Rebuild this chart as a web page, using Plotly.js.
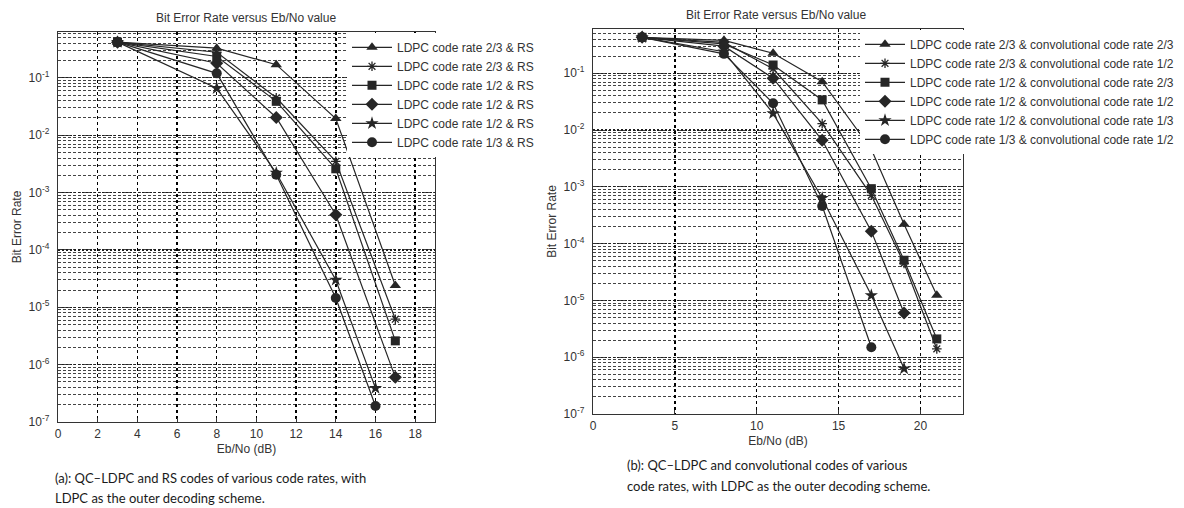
<!DOCTYPE html>
<html>
<head>
<meta charset="utf-8">
<script src="https://cdn.plot.ly/plotly-3.0.1.min.js"></script>
<style>html,body{margin:0;padding:0;background:#fff;}#chart{width:1184px;height:508px;}</style>
</head>
<body>
<div id="chart"></div>
<script>
// ---------- Data: panel (a) QC-LDPC + RS ----------
const aNames = [
  "LDPC code rate 2/3 & RS",
  "LDPC code rate 2/3 & RS",
  "LDPC code rate 1/2 & RS",
  "LDPC code rate 1/2 & RS",
  "LDPC code rate 1/2 & RS",
  "LDPC code rate 1/3 & RS"
];
const aX_tri  = [3, 8, 11, 14, 17];
const aY_tri  = [0.42, 0.33, 0.17, 0.0195, 2.4e-5];
const aX_ast  = [3, 8, 11, 14, 17];
const aY_ast  = [0.42, 0.28, 0.045, 0.0035, 6.2e-6];
const aX_sq   = [3, 8, 11, 14, 17];
const aY_sq   = [0.42, 0.236, 0.039, 0.0026, 2.6e-6];
const aX_dia  = [3, 8, 11, 14, 17];
const aY_dia  = [0.42, 0.18, 0.0204, 4.1e-4, 6e-7];
const aX_star = [3, 8, 11, 14, 16];
const aY_star = [0.42, 0.066, 0.0022, 3e-5, 3.9e-7];
const aX_circ = [3, 8, 11, 14, 16];
const aY_circ = [0.42, 0.12, 0.00204, 1.45e-5, 1.9e-7];

// ---------- Data: panel (b) QC-LDPC + convolutional ----------
const bNames = [
  "LDPC code rate 2/3 & convolutional code rate 2/3",
  "LDPC code rate 2/3 & convolutional code rate 1/2",
  "LDPC code rate 1/2 & convolutional code rate 2/3",
  "LDPC code rate 1/2 & convolutional code rate 1/2",
  "LDPC code rate 1/2 & convolutional code rate 1/3",
  "LDPC code rate 1/3 & convolutional code rate 1/2"
];
const bX_tri  = [3, 8, 11, 14, 17, 19, 21];
const bY_tri  = [0.43, 0.38, 0.225, 0.071, 0.0046, 2.2e-4, 1.23e-5];
const bX_ast  = [3, 8, 11, 14, 17, 19, 21];
const bY_ast  = [0.43, 0.35, 0.12, 0.013, 7.1e-4, 4.5e-5, 1.4e-6];
const bX_sq   = [3, 8, 11, 14, 17, 19, 21];
const bY_sq   = [0.43, 0.33, 0.14, 0.034, 9.3e-4, 5.1e-5, 2.1e-6];
const bX_dia  = [3, 8, 11, 14, 17, 19];
const bY_dia  = [0.43, 0.30, 0.082, 0.0066, 1.66e-4, 6e-6];
const bX_star = [3, 8, 11, 14, 17, 19];
const bY_star = [0.43, 0.24, 0.0197, 6.3e-4, 1.23e-5, 6.3e-7];
const bX_circ = [3, 8, 11, 14, 17];
const bY_circ = [0.43, 0.22, 0.0296, 4.6e-4, 1.5e-6];

// ---------- Axis tick labels ----------
const xTicksA = [0, 2, 4, 6, 8, 10, 12, 14, 16, 18];
const xTicksB = [0, 5, 10, 15, 20];
const yTickVals = [1e-7, 1e-6, 1e-5, 1e-4, 1e-3, 1e-2, 1e-1];
const yTickText = ["10<sup>-7</sup>", "10<sup>-6</sup>", "10<sup>-5</sup>", "10<sup>-4</sup>",
                   "10<sup>-3</sup>", "10<sup>-2</sup>", "10<sup>-1</sup>"];

const symbols = ["triangle-up", "asterisk-open", "square", "diamond", "star", "circle"];
const sizes   = [10, 8, 9, 10, 10, 10];
const LINE = "#262626";

function mk(x, y, i, name, xa, ya, lg) {
  return {
    type: "scatter", mode: "lines+markers", x: x, y: y, name: name,
    xaxis: xa, yaxis: ya, legend: lg,
    line: {color: LINE, width: 1.2},
    marker: {symbol: symbols[i], size: sizes[i], color: LINE,
             line: {color: LINE, width: symbols[i] === "asterisk-open" ? 1.3 : 0}}
  };
}

const traces = [
  mk(aX_tri, aY_tri, 0, aNames[0], "x", "y", "legend"),
  mk(aX_ast, aY_ast, 1, aNames[1], "x", "y", "legend"),
  mk(aX_sq, aY_sq, 2, aNames[2], "x", "y", "legend"),
  mk(aX_dia, aY_dia, 3, aNames[3], "x", "y", "legend"),
  mk(aX_star, aY_star, 4, aNames[4], "x", "y", "legend"),
  mk(aX_circ, aY_circ, 5, aNames[5], "x", "y", "legend"),
  mk(bX_tri, bY_tri, 0, bNames[0], "x2", "y2", "legend2"),
  mk(bX_ast, bY_ast, 1, bNames[1], "x2", "y2", "legend2"),
  mk(bX_sq, bY_sq, 2, bNames[2], "x2", "y2", "legend2"),
  mk(bX_dia, bY_dia, 3, bNames[3], "x2", "y2", "legend2"),
  mk(bX_star, bY_star, 4, bNames[4], "x2", "y2", "legend2"),
  mk(bX_circ, bY_circ, 5, bNames[5], "x2", "y2", "legend2")
];

const W = 1184, H = 508;
const px = v => v / W;
const py = v => 1 - v / H;
const FONT = "Liberation Sans, Arial, sans-serif";
const tickFont = {family: FONT, size: 12, color: "#333"};
const titleFont = {family: FONT, size: 12, color: "#333"};

function xaxis(dom, range, ticks, anchor) {
  return {
    domain: dom, range: range, anchor: anchor,
    tickmode: "array", tickvals: ticks, ticktext: ticks.map(String),
    showgrid: true, gridcolor: "#000000", gridwidth: 1.5, griddash: "dot",
    showline: true, mirror: true, linecolor: "#333", linewidth: 1.2,
    ticks: "inside", ticklen: 4, tickcolor: "#333",
    zeroline: false, tickfont: tickFont,
    title: {text: "Eb/No (dB)", font: titleFont, standoff: 5}
  };
}
function yaxis(dom, range, anchor) {
  return {
    domain: dom, type: "log", range: range, anchor: anchor,
    tickmode: "array", tickvals: yTickVals, ticktext: yTickText,
    showgrid: true, gridcolor: "#1e1e1e", gridwidth: 1.2, griddash: "2px,2px",
    minor: {dtick: "D1", showgrid: true, gridcolor: "#444", gridwidth: 1, griddash: "3px,2px", ticks: ""},
    showline: true, mirror: true, linecolor: "#333", linewidth: 1.2,
    ticks: "inside", ticklen: 4, tickcolor: "#333",
    zeroline: false, tickfont: {family: FONT, size: 12, color: "#333"},
    ticklabelstandoff: 5,
    title: {text: "Bit Error Rate", font: titleFont, standoff: 4}
  };
}

const capFont = {family: "Lato, Noto Sans, sans-serif", size: 13, color: "#1a1a1a"};
function cap(text, x, y) {
  return {text: text, xref: "paper", yref: "paper", x: px(x), y: py(y),
          xanchor: "left", yanchor: "middle", align: "left", showarrow: false, font: capFont};
}

const layout = {
  width: W, height: H,
  margin: {l: 0, r: 0, t: 0, b: 0},
  paper_bgcolor: "#fff", plot_bgcolor: "#fff",
  showlegend: true,
  xaxis:  xaxis([px(58), px(435)], [0, 19], xTicksA, "y"),
  yaxis:  yaxis([py(422), py(32)], [-7, -0.2], "x"),
  xaxis2: xaxis([px(593), px(963)], [0, 22.6], xTicksB, "y2"),
  yaxis2: yaxis([py(414), py(29)], [-7, -0.22], "x2"),
  legend: {
    x: px(347), y: py(32.8), xanchor: "left", yanchor: "top",
    bgcolor: "#fff", borderwidth: 0, itemwidth: 40,
    font: {family: FONT, size: 12, color: "#333"}, tracegroupgap: 0
  },
  legend2: {
    x: px(860), y: py(29.8), xanchor: "left", yanchor: "top",
    bgcolor: "#fff", borderwidth: 0, itemwidth: 40,
    font: {family: FONT, size: 12, color: "#333"}, tracegroupgap: 0
  },
  annotations: [
    {text: "Bit Error Rate versus Eb/No value", xref: "paper", yref: "paper",
     x: px(246), y: py(18), xanchor: "center", yanchor: "middle", showarrow: false,
     font: {family: FONT, size: 12, color: "#333"}},
    {text: "Bit Error Rate versus Eb/No value", xref: "paper", yref: "paper",
     x: px(776), y: py(15), xanchor: "center", yanchor: "middle", showarrow: false,
     font: {family: FONT, size: 12, color: "#333"}},
    cap("(a): QC–LDPC and RS codes of various code rates, with", 53, 478),
    cap("LDPC as the outer decoding scheme.", 53, 498),
    cap("(b): QC–LDPC and convolutional codes of various", 625, 465),
    cap("code rates, with LDPC as the outer decoding scheme.", 625, 486)
  ]
};

Plotly.newPlot("chart", traces, layout, {displayModeBar: false, staticPlot: true});
</script>
</body>
</html>
